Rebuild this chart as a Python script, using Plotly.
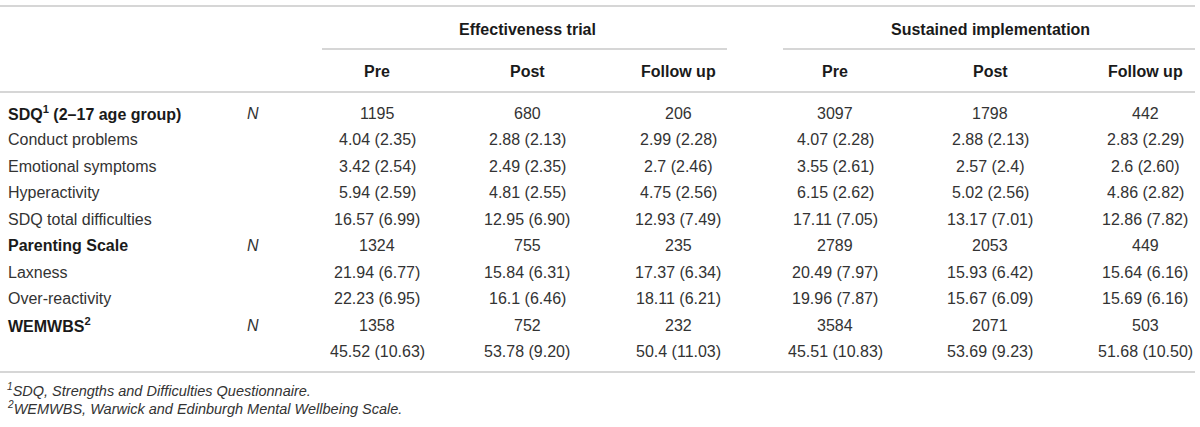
import plotly.graph_objects as go

# table content
groups = ["Effectiveness trial", "Sustained implementation"]
timepoints = ["Pre", "Post", "Follow up"]

row_labels = ["SDQ<sup>1</sup> (2–17 age group)", "Conduct problems", "Emotional symptoms",
              "Hyperactivity", "SDQ total difficulties", "Parenting Scale", "Laxness",
              "Over-reactivity", "WEMWBS<sup>2</sup>", ""]
row_bold = [True, False, False, False, False, True, False, False, True, False]
n_marker = ["N", "", "", "", "", "N", "", "", "N", ""]

eff_pre = ["1195", "4.04 (2.35)", "3.42 (2.54)", "5.94 (2.59)", "16.57 (6.99)",
           "1324", "21.94 (6.77)", "22.23 (6.95)", "1358", "45.52 (10.63)"]
eff_post = ["680", "2.88 (2.13)", "2.49 (2.35)", "4.81 (2.55)", "12.95 (6.90)",
            "755", "15.84 (6.31)", "16.1 (6.46)", "752", "53.78 (9.20)"]
eff_fu = ["206", "2.99 (2.28)", "2.7 (2.46)", "4.75 (2.56)", "12.93 (7.49)",
          "235", "17.37 (6.34)", "18.11 (6.21)", "232", "50.4 (11.03)"]
sus_pre = ["3097", "4.07 (2.28)", "3.55 (2.61)", "6.15 (2.62)", "17.11 (7.05)",
           "2789", "20.49 (7.97)", "19.96 (7.87)", "3584", "45.51 (10.83)"]
sus_post = ["1798", "2.88 (2.13)", "2.57 (2.4)", "5.02 (2.56)", "13.17 (7.01)",
            "2053", "15.93 (6.42)", "15.67 (6.09)", "2071", "53.69 (9.23)"]
sus_fu = ["442", "2.83 (2.29)", "2.6 (2.60)", "4.86 (2.82)", "12.86 (7.82)",
          "449", "15.64 (6.16)", "15.69 (6.16)", "503", "51.68 (10.50)"]

footnotes = ["<sup>1</sup>SDQ, Strengths and Difficulties Questionnaire.",
             "<sup>2</sup>WEMWBS, Warwick and Edinburgh Mental Wellbeing Scale."]

# layout in page pixels
col_x = [377, 527, 678, 835, 990, 1145]
group_x = [527, 990]
group_line = [(322, 727), (783, 1195)]
row_y0, row_dy = 113, 26.5
FONT = "Liberation Sans, Arial, sans-serif"
TXT = "#333333"
HEAD = "#1a1a1a"
LINE = "#d6d6d6"
FS = 16

columns = [eff_pre, eff_post, eff_fu, sus_pre, sus_post, sus_fu]

fig = go.Figure()
fig.add_trace(go.Scatter(x=[0, 1200], y=[0, 427], mode="markers",
                         marker=dict(opacity=0), hoverinfo="skip", showlegend=False))

ann = []
def txt(x, y, s, anchor="center", size=FS, color=TXT):
    ann.append(dict(x=x, y=y, text=s, xref="x", yref="y", showarrow=False,
                    xanchor=anchor, yanchor="middle",
                    font=dict(family=FONT, size=size, color=color)))

# group headers
for g, gx in zip(groups, group_x):
    txt(gx, 29, "<b>" + g + "</b>", color=HEAD)
# timepoint headers
for i, cx in enumerate(col_x):
    txt(cx, 71, "<b>" + timepoints[i % 3] + "</b>", color=HEAD)

# body
for r, lab in enumerate(row_labels):
    y = row_y0 + r * row_dy
    if lab:
        s = "<b>" + lab + "</b>" if row_bold[r] else lab
        txt(6, y, s, anchor="left", color=HEAD if row_bold[r] else TXT)
    if n_marker[r]:
        txt(253, y, "<i>" + n_marker[r] + "</i>")
    for cx, col in zip(col_x, columns):
        txt(cx, y, col[r])

# footnotes
for k, f in enumerate(footnotes):
    txt(5, 390 + k * 17.5, "<i>" + f + "</i>", anchor="left", size=14.5)

shapes = []
def hline(x0, x1, y):
    shapes.append(dict(type="line", xref="x", yref="y", x0=x0, x1=x1, y0=y, y1=y,
                       line=dict(color=LINE, width=2)))

hline(0, 1195, 6)
for a, b in group_line:
    hline(a, b, 49)
hline(0, 1195, 92)
hline(0, 1195, 372)

fig.update_layout(
    width=1200, height=427,
    margin=dict(l=0, r=0, t=0, b=0),
    paper_bgcolor="white", plot_bgcolor="white",
    xaxis=dict(range=[0, 1200], visible=False, fixedrange=True),
    yaxis=dict(range=[427, 0], visible=False, fixedrange=True),
    annotations=ann, shapes=shapes,
)

fig.write_html("out.html", config={"displayModeBar": False},
               post_script="document.body.style.margin='0';")
